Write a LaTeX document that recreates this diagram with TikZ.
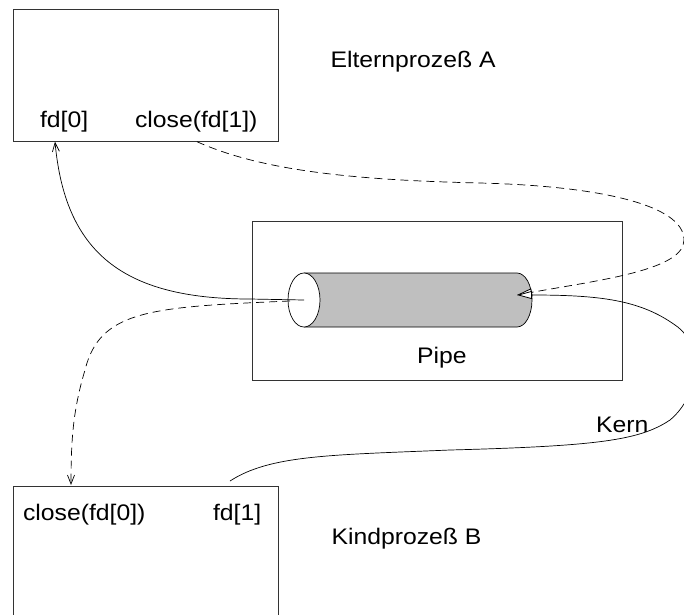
\documentclass[tikz,border=0pt]{standalone}
\usepackage{fontspec}
\setmainfont{Liberation Sans}[FakeStretch=1.1]
\usetikzlibrary{arrows.meta,shapes.geometric}
\begin{document}
\begin{tikzpicture}[x=1pt,y=-1pt,
  every node/.style={font=\fontsize{22.5}{26}\selectfont, inner sep=0pt, outer sep=0pt},
  procbox/.style={draw=black!80, line width=0.9pt, minimum width=265pt, fill=none},
  pipebox/.style={draw=black!80, line width=0.9pt, minimum width=370pt, minimum height=159pt},
  lbl/.style={anchor=base west},
  conn/.style={line width=0.7pt, black},
  dashconn/.style={conn, dash pattern=on 8pt off 5pt},
  barb/.style={-{Straight Barb[length=9pt,width=7pt,line width=0.7pt]}},
  hollow/.style={-{Triangle[open,length=15pt,width=8pt,line width=0.8pt,fill=white]}}
]
\useasboundingbox (0,0) rectangle (684,614);
\fill[white] (0,0) rectangle (684,614);

% boxes
\node[procbox, minimum height=132pt] (A) at (145.5,75.6) {};
\node[procbox, minimum height=200pt] (B) at (145.5,586) {};
\node[pipebox] (P) at (437,300.5) {};

% cylinder
\fill[black!25] (304,273) -- (517,273) .. controls (525.3,273) and (532,285.1) .. (532,300)
  .. controls (532,314.9) and (525.3,327) .. (517,327) -- (304,327) -- cycle;
\draw[line width=0.7pt] (304,273) -- (517,273) .. controls (525.3,273) and (532,285.1) .. (532,300)
  .. controls (532,314.9) and (525.3,327) .. (517,327) -- (304,327);
\node[draw, line width=0.7pt, fill=white, ellipse, minimum width=32pt, minimum height=54pt] (pipeIn) at (304,300) {};
\coordinate (pipeOut) at (517,295);

% texts
\node[lbl] (tA) at (330.5,67.7) {Elternprozeß A};
\node[lbl] (fd0) at (40,127) {fd[0]};
\node[lbl] (cl1) at (135,127) {close(fd[1])};
\node[lbl] (cl0) at (23,520) {close(fd[0])};
\node[lbl] (fd1) at (213,520) {fd[1]};
\node[lbl] (tB) at (331.5,544) {Kindprozeß B};
\node[lbl] (tP) at (417,363) {Pipe};
\node[lbl] (tK) at (596,432) {Kern};

% helper coordinates
\coordinate (a0) at (55,141.7);
\coordinate (a1) at (197,141.7);
\coordinate (b0) at (71,485);
\coordinate (b1) at (230,481);
\coordinate (inS) at (pipeIn.center);
\coordinate (inD) at (290,301);

% solid: pipe -> fd[0]
\draw[conn, barb] (inS) -- (250,299) .. controls (120,299) and (65,250) .. (a0);

% dashed: pipe -> close(fd[0])
\draw[dashconn, barb] (inD) .. controls (150,307) and (100,310) .. (85,370)
  .. controls (73,410) and (71,440) .. (b0);

% dashed: close(fd[1]) -> pipe end
\draw[dashconn, hollow] (a1) .. controls (260,170) and (350,180) .. (480,183)
  .. controls (600,186) and (684,205) .. (684,240)
  .. controls (684,270) and (600,280) .. (pipeOut);

% solid: fd[1] -> pipe end (Kern)
\draw[conn, hollow] (b1) .. controls (270,455) and (330,455) .. (450,450)
  .. controls (600,446) and (640,440) .. (670,420)
  .. controls (700,395) and (705,345) .. (675,325)
  .. controls (640,300) and (600,295) .. (pipeOut);
\end{tikzpicture}
\end{document}
